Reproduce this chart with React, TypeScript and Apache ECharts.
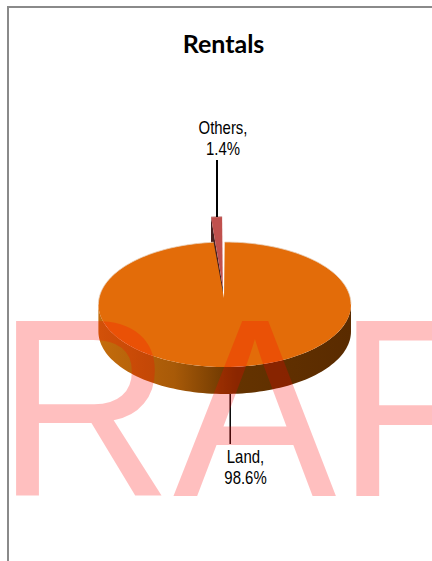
import React, { useEffect, useRef } from "react";
import * as echarts from "echarts";

const chartTitle = "Rentals";
const watermark = "RAF";
// Drawn back to front: the small slice sits behind the large one.
const categories = ["Others", "Land"];
const shares = [1.4, 98.6];
const topColors = ["#C0504D", "#E36C09"];

const CX = 224.7;
const CY = 304.5;
const RX = 126.3;
const RY = 62.5;
const DEPTH = 27;
const RAD = Math.PI / 180;

const rimPoint = (deg: number, dx = 0, dy = 0): number[] => [
  CX + dx + RX * Math.sin(deg * RAD),
  CY + dy - RY * Math.cos(deg * RAD),
];

const arc = (from: number, to: number, dx = 0, dy = 0): number[][] => {
  const steps = Math.max(2, Math.ceil(Math.abs(to - from) / 2));
  const pts: number[][] = [];
  for (let i = 0; i <= steps; i++) pts.push(rimPoint(from + ((to - from) * i) / steps, dx, dy));
  return pts;
};

const wallGradient = () =>
  new echarts.graphic.LinearGradient(0, 0, 1, 0, [
    { offset: 0, color: "#C46C0C" },
    { offset: 0.3, color: "#A85A08" },
    { offset: 0.55, color: "#643300" },
    { offset: 1, color: "#5A2B00" },
  ]);

// Per-slice placement: the small slice is pulled out towards the back of the pie.
const explode = [
  { dx: -2.6, dy: -25.3, apex: [222.8, 287] },
  { dx: 0, dy: 0, apex: [224, 298] },
];

const leader = [
  { x: 217, from: 217, to: 160, labelX: 223, labelY: 139 },
  { x: 230.2, from: 394, to: 444, labelX: 245.5, labelY: 468 },
];

function renderSlice(params: any, api: any) {
  const i = params.dataIndex;
  const total = shares.reduce((a, b) => a + b, 0);
  let start = (-shares[0] / total) * 360;
  for (let k = 0; k < i; k++) start += (shares[k] / total) * 360;
  const end = start + (shares[i] / total) * 360;
  const { dx, dy, apex } = explode[i];
  const children: any[] = [];

  const wallFrom = Math.max(start, 90);
  const wallTo = Math.min(end, 270);
  if (wallTo > wallFrom) {
    const wall = [...arc(wallFrom, wallTo, dx, dy), ...arc(wallTo, wallFrom, dx, dy + DEPTH)];
    children.push({
      type: "polygon",
      shape: { points: wall },
      style: { fill: wallGradient() },
    });
  } else {
    const s = rimPoint(start, dx, dy);
    children.push({
      type: "polygon",
      shape: {
        points: [s, apex, [apex[0], apex[1] + DEPTH], [s[0], s[1] + DEPTH]],
      },
      style: { fill: "#45201F" },
    });
  }

  children.push({
    type: "polygon",
    shape: { points: [apex, ...arc(start, end, dx, dy)] },
    style: { fill: topColors[i] },
  });

  // Pale highlight along the far rim of the top face.
  const rimSpans = i ? [[0, 90], [270, end]] : [[start, end]];
  rimSpans.forEach(([a, b]) => {
    children.push({
      type: "polyline",
      shape: { points: arc(a, b, dx, dy) },
      style: { stroke: i ? "#E9D3BF" : "#C9A09E", lineWidth: 0.8, fill: "none" },
    });
  });

  const l = leader[i];
  children.push({
    type: "line",
    shape: { x1: l.x, y1: l.from, x2: l.x, y2: l.to },
    style: { stroke: "#000", lineWidth: i === 0 ? 2 : 1.5 },
  });
  children.push({
    type: "text",
    x: l.labelX,
    y: l.labelY,
    scaleX: 0.83,
    style: {
      text: `${categories[i]},\n${api.value(0)}%`,
      fill: "#000",
      font: '18px "Liberation Sans", Arial, sans-serif',
      align: "center",
      verticalAlign: "middle",
      lineHeight: 21,
    },
  });
  return { type: "group", children };
}

export default function App() {
  const ref = useRef<HTMLDivElement>(null);
  useEffect(() => {
    const chart = echarts.init(ref.current!, undefined, { renderer: "svg" });
    chart.setOption({
      animation: false,
      backgroundColor: "#fff",
      series: [
        {
          type: "custom",
          coordinateSystem: "none",
          silent: true,
          data: shares.map((v, i) => ({ name: categories[i], value: [v] })),
          renderItem: renderSlice,
        },
      ],
      graphic: [
        {
          type: "polyline",
          shape: { points: [[8, 561], [8, 7], [432, 7]] },
          style: { stroke: "#8A8A8A", lineWidth: 2, fill: "none" },
          z: 1,
        },
        {
          type: "text",
          x: 223.5,
          y: 42.5,
          style: {
            text: chartTitle,
            font: 'bold 25px Lato, "Open Sans", sans-serif',
            fill: "#000",
            align: "center",
            verticalAlign: "middle",
          },
          z: 5,
        },
        {
          type: "text",
          x: -4,
          y: 281,
          scaleY: 1.035,
          style: {
            text: watermark,
            font: '245px "Liberation Sans", Arial, sans-serif',
            fill: "rgba(255,0,0,0.25)",
            align: "left",
            verticalAlign: "top",
          },
          z: 100,
        },
      ],
    });
    return () => chart.dispose();
  }, []);
  return (
    <div
      ref={ref}
      style={{ position: "fixed", left: 0, top: 0, width: 432, height: 561 }}
    />
  );
}
